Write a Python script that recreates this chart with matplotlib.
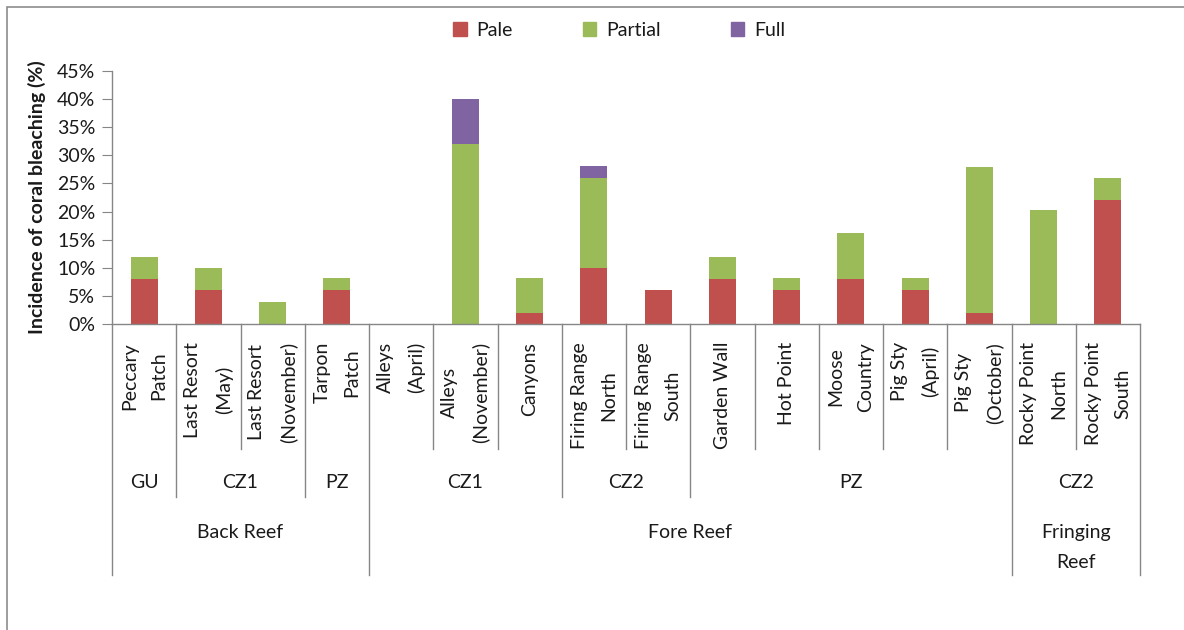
import numpy as np
import matplotlib
matplotlib.use("Agg")
import matplotlib.pyplot as plt
from matplotlib.patches import Rectangle, Patch
from matplotlib.ticker import PercentFormatter

plt.rcParams['font.family'] = ['Lato', 'DejaVu Sans']

sites = ["Peccary\nPatch", "Last Resort\n(May)", "Last Resort\n(November)", "Tarpon\nPatch",
         "Alleys\n(April)", "Alleys\n(November)", "Canyons", "Firing Range\nNorth",
         "Firing Range\nSouth", "Garden Wall", "Hot Point", "Moose\nCountry",
         "Pig Sty\n(April)", "Pig Sty\n(October)", "Rocky Point\nNorth", "Rocky Point\nSouth"]
zones = ["GU", "CZ1", "CZ1", "PZ", "CZ1", "CZ1", "CZ1", "CZ2", "CZ2",
         "PZ", "PZ", "PZ", "PZ", "PZ", "CZ2", "CZ2"]
reefs = ["Back Reef"] * 4 + ["Fore Reef"] * 10 + ["Fringing\nReef"] * 2

pale = [8, 6, 0, 6, 0, 0, 2, 10, 6, 8, 6, 8, 6, 2, 0, 22]
partial = [4, 4, 4, 2.2, 0, 32, 6.2, 16, 0, 4, 2.2, 8.2, 2.2, 26, 20.3, 4]
full = [0, 0, 0, 0, 0, 8, 0, 2.1, 0, 0, 0, 0, 0, 0, 0, 0]

c_pale, c_partial, c_full = "#C0504D", "#9BBB59", "#8064A2"
grey = "#868686"
tc = "#1a1a1a"
fs = 14

W, H = 1184, 630
fig = plt.figure(figsize=(W / 100, H / 100), dpi=100)
x0, x1, y0, y1 = 112, 1140, 324, 71
ax = fig.add_axes([x0 / W, 1 - y0 / H, (x1 - x0) / W, (y0 - y1) / H])

x = np.arange(len(sites))
p = np.array(pale) / 100
q = np.array(partial) / 100
f = np.array(full) / 100
ax.bar(x, p, 0.42, color=c_pale)
ax.bar(x, q, 0.42, bottom=p, color=c_partial)
ax.bar(x, f, 0.42, bottom=p + q, color=c_full)

ax.set_xlim(-0.5, len(sites) - 0.5)
ax.set_ylim(0, 0.45)
ax.set_yticks(np.arange(0, 0.451, 0.05))
ax.yaxis.set_major_formatter(PercentFormatter(1.0, decimals=0))
ax.tick_params(axis='y', length=7, color=grey, labelsize=fs, pad=5, labelcolor=tc)
ax.set_xticks([])
for s in ["top", "right"]:
    ax.spines[s].set_visible(False)
for s in ["left", "bottom"]:
    ax.spines[s].set_color(grey)
    ax.spines[s].set_linewidth(1)

ax.set_ylabel("Incidence of coral bleaching (%)", fontsize=fs, fontweight="bold",
              labelpad=8, color=tc)

def ya(ypix):
    return (y0 - ypix) / (y0 - y1)

tr = ax.get_xaxis_transform()

# separators below axis
n = len(sites)
for b in range(n + 1):
    if b == 0 or b == n or reefs[b - 1] != reefs[b]:
        yend = 575
    elif zones[b - 1] != zones[b]:
        yend = 497
    else:
        yend = 449
    ax.plot([b - 0.5, b - 0.5], [0, ya(yend)], color=grey, lw=1, transform=tr, clip_on=False)

for i, s in enumerate(sites):
    ax.text(i, ya(342), s, rotation=90, ha="center", va="top", multialignment="center",
            fontsize=fs, linespacing=1.9, color=tc, transform=tr)

def groups(labels):
    out = []
    start = 0
    for i in range(1, len(labels) + 1):
        if i == len(labels) or labels[i] != labels[start] or (labels is zones and reefs[i] != reefs[start]):
            out.append((start, i - 1, labels[start]))
            start = i
    return out

for a, b, lab in groups(zones):
    ax.text((a + b) / 2, ya(483), lab, ha="center", va="center", fontsize=fs,
            color=tc, transform=tr)
for a, b, lab in groups(reefs):
    ax.text((a + b) / 2, ya(524), lab, ha="center", va="top", fontsize=fs,
            linespacing=1.9, color=tc, transform=tr)

handles = [Patch(color=c_pale, label="Pale"), Patch(color=c_partial, label="Partial"),
           Patch(color=c_full, label="Full")]
fig.legend(handles=handles, loc="center", bbox_to_anchor=(619 / W, 1 - 30 / H), ncol=3,
           frameon=False, fontsize=fs, handlelength=0.7, handleheight=0.7,
           columnspacing=3.6, handletextpad=0.5, labelcolor=tc)

fig.patches.append(Rectangle((6.5 / W, -0.2), 1.5, 1.2 - 6.5 / H, fill=False,
                             edgecolor="#8c8c8c", lw=1.2, transform=fig.transFigure))

fig.savefig("out.png", dpi=100)
